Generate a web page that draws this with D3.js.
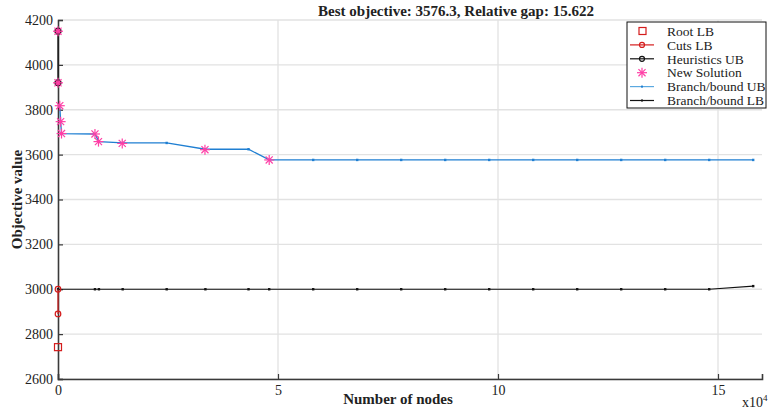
<!DOCTYPE html>
<html>
<head>
<meta charset="utf-8">
<script src="https://cdn.jsdelivr.net/npm/d3@7"></script>
<style>
  body { margin: 0; background: #fff; }
  svg text { font-family: "Liberation Serif", "DejaVu Serif", serif !important; fill: #222; }
</style>
</head>
<body>
<script>
const width = 768, height = 412;
const margin = { left: 58, right: 6, top: 20, bottom: 33 };

// node counts are in units of 1e4
const rootLB = [{ n: 0, v: 2742 }];
const cutsLB = [{ n: 0, v: 2890 }, { n: 0, v: 3000 }];
const heurUB = [{ n: 0, v: 4150 }, { n: 0, v: 3920 }];
const newSolNodes = [0, 0, 0.04, 0.06, 0.08, 0.84, 0.92, 1.46, 3.34, 4.8];
const newSolValues = [4150, 3920, 3818, 3747, 3694, 3692, 3658, 3650, 3622, 3576.3];
const bbNodes = [0.04, 0.06, 0.08, 0.84, 0.93, 1.47, 2.47, 3.35, 4.33, 4.8, 5.8, 6.8, 7.8, 8.8,
  9.8, 10.8, 11.8, 12.8, 13.8, 14.8, 15.8];
const bbUB = [3818, 3747, 3694, 3692, 3658, 3652, 3652, 3624, 3624, 3576.3, 3576.3, 3576.3, 3576.3,
  3576.3, 3576.3, 3576.3, 3576.3, 3576.3, 3576.3, 3576.3, 3576.3];
const lbNodes = [0, 0.84, 0.93, 1.47, 2.47, 3.35, 4.33, 4.8, 5.8, 6.8, 7.8, 8.8,
  9.8, 10.8, 11.8, 12.8, 13.8, 14.8, 15.8];
const bbLB = [3000, 3000, 3000, 3000, 3000, 3000, 3000, 3000, 3000, 3000, 3000, 3000,
  3000, 3000, 3000, 3000, 3000, 3000, 3014];
const xTicks = [0, 5, 10, 15];
const yTicks = [2600, 2800, 3000, 3200, 3400, 3600, 3800, 4000, 4200];

const blue = "#1f7fd2", magenta = "#ff3fa6", red = "#d41c1c";
const serif = "Liberation Serif";

const svg = d3.select("body").append("svg")
  .attr("width", width)
  .attr("height", height)
  .attr("font-family", serif);

const x = d3.scaleLinear().domain([0, 16]).range([margin.left, width - margin.right]);
const y = d3.scaleLinear().domain([2600, 4200]).range([height - margin.bottom, margin.top]);

// grid
svg.append("g").selectAll("line").data(yTicks).join("line")
  .attr("x1", x(0)).attr("x2", x(16))
  .attr("y1", d => y(d)).attr("y2", d => y(d))
  .attr("stroke", "#e2e2e2").attr("stroke-width", 1.3);
svg.append("g").selectAll("line").data(xTicks.slice(1)).join("line")
  .attr("x1", d => x(d)).attr("x2", d => x(d))
  .attr("y1", y(2600)).attr("y2", y(4200))
  .attr("stroke", "#e2e2e2").attr("stroke-width", 1.3);

// axes (inward ticks)
const yAxis = svg.append("g")
  .attr("transform", `translate(${x(0)},0)`)
  .call(d3.axisRight(y).tickValues(yTicks).tickSize(5).tickFormat(d3.format("d")));
yAxis.selectAll("text").attr("x", -5).attr("text-anchor", "end").attr("dy", "0.32em");
const xAxis = svg.append("g")
  .attr("transform", `translate(0,${y(2600)})`)
  .call(d3.axisTop(x).tickValues(xTicks).tickSize(5));
xAxis.selectAll("text").attr("y", 6).attr("dy", "0.71em");
[yAxis, xAxis].forEach(a => {
  a.attr("font-family", serif).attr("font-size", 14);
  a.select(".domain").attr("stroke", "#3a3a3a").attr("stroke-width", 1.6);
  a.selectAll(".tick line").attr("stroke", "#3a3a3a").attr("stroke-width", 1.2);
  a.selectAll(".tick text").attr("fill", "#222");
});

// branch/bound LB
const line = d3.line().x(d => x(d[0])).y(d => y(d[1]));
const lbPts = lbNodes.map((n, i) => [n, bbLB[i]]);
svg.append("path").attr("d", line(lbPts)).attr("fill", "none")
  .attr("stroke", "#111").attr("stroke-width", 1.2);
svg.append("g").selectAll("rect").data(lbPts).join("rect")
  .attr("x", d => x(d[0]) - 1.2).attr("y", d => y(d[1]) - 1.2)
  .attr("width", 2.4).attr("height", 2.4).attr("fill", "#111");

// branch/bound UB
const ubPts = bbNodes.map((n, i) => [n, bbUB[i]]);
svg.append("path").attr("d", line(ubPts)).attr("fill", "none")
  .attr("stroke", blue).attr("stroke-width", 1.3);
svg.append("g").selectAll("rect").data(ubPts).join("rect")
  .attr("x", d => x(d[0]) - 1.2).attr("y", d => y(d[1]) - 1.2)
  .attr("width", 2.4).attr("height", 2.4).attr("fill", blue);

// cuts LB
svg.append("path").attr("d", line(cutsLB.map(d => [d.n, d.v]))).attr("fill", "none")
  .attr("stroke", red).attr("stroke-width", 1.2);
svg.append("g").selectAll("circle").data(cutsLB).join("circle")
  .attr("cx", d => x(d.n)).attr("cy", d => y(d.v)).attr("r", 2.8)
  .attr("fill", "none").attr("stroke", red).attr("stroke-width", 1.2);

// root LB
svg.append("g").selectAll("rect").data(rootLB).join("rect")
  .attr("x", d => x(d.n) - 3.5).attr("y", d => y(d.v) - 3.5)
  .attr("width", 7).attr("height", 7)
  .attr("fill", "none").attr("stroke", red).attr("stroke-width", 1.2);

// asterisk marker
function star(g, cx, cy, r) {
  const a = r * Math.SQRT1_2;
  const segs = [[-r, 0, r, 0], [0, -r, 0, r], [-a, -a, a, a], [-a, a, a, -a]];
  segs.forEach(s => g.append("line")
    .attr("x1", cx + s[0]).attr("y1", cy + s[1]).attr("x2", cx + s[2]).attr("y2", cy + s[3])
    .attr("stroke", magenta).attr("stroke-width", 1.2));
}

// heuristics UB
svg.append("path").attr("d", line(heurUB.map(d => [d.n, d.v]))).attr("fill", "none")
  .attr("stroke", "#111").attr("stroke-width", 1.2);
svg.append("g").selectAll("circle").data(heurUB).join("circle")
  .attr("cx", d => x(d.n)).attr("cy", d => y(d.v)).attr("r", 3)
  .attr("fill", "#c8327a").attr("stroke", "#111").attr("stroke-width", 1.2);

// new solutions
const solG = svg.append("g");
newSolNodes.forEach((n, i) => star(solG, x(n), y(newSolValues[i]), 5));

// titles
svg.append("text").attr("x", 456).attr("y", 16).attr("text-anchor", "middle")
  .attr("font-size", 15).attr("font-weight", "bold")
  .text("Best objective: 3576.3, Relative gap: 15.622");
svg.append("text").attr("x", 398).attr("y", 404).attr("text-anchor", "middle")
  .attr("font-size", 15).attr("font-weight", "bold")
  .text("Number of nodes");
svg.append("text").attr("transform", `translate(22,${(y(2600) + y(4200)) / 2}) rotate(-90)`)
  .attr("text-anchor", "middle")
  .attr("font-size", 15).attr("font-weight", "bold")
  .text("Objective value");
const mult = svg.append("text").attr("x", 742).attr("y", 407).attr("font-size", 14);
mult.append("tspan").text("x10");
mult.append("tspan").attr("dy", -6).attr("font-size", 9).text("4");

// legend
const legendItems = ["Root LB", "Cuts LB", "Heuristics UB", "New Solution", "Branch/bound UB", "Branch/bound LB"];
const lg = svg.append("g").attr("transform", "translate(627,22)");
lg.append("rect").attr("width", 139).attr("height", 86)
  .attr("fill", "#fff").attr("stroke", "#111").attr("stroke-width", 1);
legendItems.forEach((name, i) => {
  const cy = 9 + i * 13.9;
  const row = lg.append("g");
  if (i === 1 || i === 2 || i === 4 || i === 5) {
    row.append("line").attr("x1", 3).attr("x2", 27).attr("y1", cy).attr("y2", cy)
      .attr("stroke", [null, red, "#111", null, "#5ba9e0", "#111"][i]).attr("stroke-width", 1.2);
  }
  if (i === 0) {
    row.append("rect").attr("x", 12).attr("y", cy - 3.5).attr("width", 7).attr("height", 7)
      .attr("fill", "none").attr("stroke", red).attr("stroke-width", 1.2);
  } else if (i === 1 || i === 2) {
    row.append("circle").attr("cx", 15).attr("cy", cy).attr("r", 2.5)
      .attr("fill", "none").attr("stroke", i === 1 ? red : "#111").attr("stroke-width", 1.2);
  } else if (i === 3) {
    star(row, 15, cy, 5);
  } else {
    row.append("rect").attr("x", 14).attr("y", cy - 1).attr("width", 2).attr("height", 2)
      .attr("fill", i === 4 ? blue : "#111");
  }
  row.append("text").attr("x", 40).attr("y", cy).attr("dy", "0.35em")
    .attr("font-size", 13.5).text(name);
});
</script>
</body>
</html>
